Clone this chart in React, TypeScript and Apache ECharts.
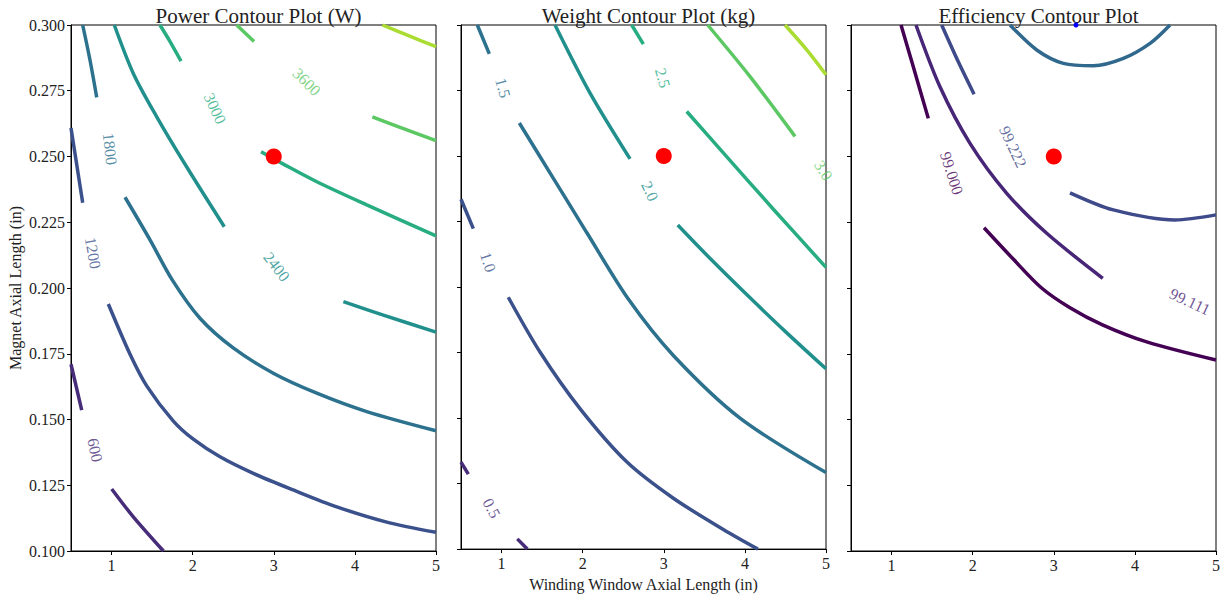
import React, { useEffect, useRef } from "react";
import * as echarts from "echarts";

type Pt = [number, number];

// ---------- axis ticks ----------
const xTickValues = [1, 2, 3, 4, 5];
const xMin = 0.5;
const xMax = 5;
const yMin = 0.1;
const yMax = 0.3;
const yStep = 0.025;

// ---------- titles ----------
const panelTitles = ["Power Contour Plot (W)", "Weight Contour Plot (kg)", "Efficiency Contour Plot"];
const xAxisTitle = "Winding Window Axial Length (in)";
const yAxisTitle = "Magnet Axial Length (in)";

// ---------- design point ----------
const designPoint: Pt = [3, 0.25];
const effPeakPoint: Pt = [3.274, 0.3];

// ---------- Power contours (W) ----------
const powerLevels = ["600", "1200", "1800", "2400", "3000", "3600", "4200"];
const power600: Pt[][] = [
  [[0.5, 0.171], [0.632, 0.1536]],
  [[1.002, 0.1236], [1.268, 0.113], [1.64, 0.1]],
];
const power1200: Pt[][] = [
  [[0.5, 0.2608], [0.644, 0.2324]],
  [[0.96, 0.1939], [1.228, 0.1748], [1.433, 0.1628], [1.762, 0.1494], [2.008, 0.1425], [2.337, 0.1358], [2.748, 0.1295], [3.241, 0.1232], [3.776, 0.1168], [4.393, 0.111], [5.0, 0.1071]],
];
const power1800: Pt[][] = [
  [[0.644, 0.3], [0.734, 0.2867], [0.817, 0.2725]],
  [[1.166, 0.2345], [1.474, 0.2183], [1.75, 0.203], [2.09, 0.1885], [2.5, 0.1772], [2.994, 0.1676], [3.53, 0.16], [4.146, 0.153], [5.0, 0.1457]],
];
const power2400: Pt[][] = [
  [[1.034, 0.3], [1.268, 0.2816], [1.557, 0.2651], [1.927, 0.246], [2.39, 0.2233]],
  [[3.858, 0.1948], [4.351, 0.1897], [5.0, 0.1832]],
];
const power3000: Pt[][] = [
  [[1.597, 0.3], [1.721, 0.2937], [1.856, 0.2863]],
  [[2.843, 0.2518], [3.118, 0.2471], [3.53, 0.2404], [4.146, 0.2316], [5.0, 0.2198]],
];
const power3600: Pt[][] = [
  [[2.543, 0.3], [2.757, 0.2937]],
  [[4.215, 0.2651], [4.557, 0.2611], [5.0, 0.256]],
];
const power4200: Pt[][] = [
  [[4.339, 0.3], [4.639, 0.2962], [5.0, 0.2918]],
];
const powerLabelText = ["600", "1200", "1800", "2400", "3000", "3600"];
const powerLabelPos: Pt[] = [[0.796, 0.1384], [0.771, 0.2133], [0.981, 0.2529], [3.036, 0.2081], [2.276, 0.2683], [3.406, 0.2784]];
const powerLabelAngle = [-78, -80, -84, -52, -65, -45];

// ---------- Weight contours (kg) ----------
const weightLevels = ["0.5", "1.0", "1.5", "2.0", "2.5", "3.0", "3.5"];
const weight05: Pt[][] = [
  [[0.5, 0.1332], [0.59, 0.1286]],
  [[1.194, 0.1039], [1.318, 0.1]],
];
const weight10: Pt[][] = [
  [[0.5, 0.2335], [0.652, 0.2223]],
  [[1.083, 0.1961], [1.474, 0.1752], [1.967, 0.1536], [2.543, 0.1333], [3.118, 0.1194], [3.734, 0.1075], [4.16, 0.1]],
];
const weight15: Pt[][] = [
  [[0.701, 0.3], [0.849, 0.289]],
  [[1.219, 0.2626], [1.597, 0.2436], [2.05, 0.2208], [2.563, 0.1954], [3.118, 0.1739], [3.94, 0.15], [5.0, 0.1292]],
];
const weight20: Pt[][] = [
  [[1.659, 0.3], [2.091, 0.274], [2.584, 0.2489]],
  [[3.172, 0.2237], [3.6, 0.21], [4.0, 0.1978], [4.5, 0.183], [5.0, 0.1688]],
];
const weight25: Pt[][] = [
  [[2.605, 0.3], [2.748, 0.2927]],
  [[3.283, 0.267], [3.734, 0.2512], [4.351, 0.2297], [5.0, 0.2075]],
];
const weight30: Pt[][] = [
  [[3.542, 0.3], [4.064, 0.2803], [4.618, 0.2575]],
];
const weight35: Pt[][] = [
  [[4.495, 0.3], [4.763, 0.2905], [5.0, 0.281]],
];
const weightLabelText = ["0.5", "1.0", "1.5", "2.0", "2.5", "3.0"];
const weightLabelPos: Pt[] = [[0.878, 0.1156], [0.833, 0.2095], [1.018, 0.276], [2.83, 0.2366], [2.987, 0.2798], [4.97, 0.2445]];
const weightLabelAngle = [-62, -72, -75, -65, -75, -58];

// ---------- Efficiency contours (%) ----------
const effLevels = ["99.000", "99.111", "99.222", "99.333"];
const eff99000: Pt[][] = [
  [[1.117, 0.3], [1.268, 0.2841], [1.453, 0.2645]],
  [[2.14, 0.2229], [2.5, 0.211], [2.85, 0.2], [3.2, 0.1925], [3.6, 0.186], [4.146, 0.1795], [5.0, 0.1726]],
];
const eff99111: Pt[][] = [
  [[1.301, 0.3], [1.597, 0.2765], [1.967, 0.255], [2.42, 0.236], [2.913, 0.2208], [3.604, 0.2037]],
];
const eff99222: Pt[][] = [
  [[1.618, 0.3], [1.823, 0.286], [2.017, 0.2737]],
  [[3.2, 0.2362], [3.735, 0.2297], [4.495, 0.2259], [5.0, 0.2278]],
];
const eff99333: Pt[][] = [
  [[2.461, 0.3], [2.79, 0.2905], [3.118, 0.2854], [3.488, 0.2845], [3.858, 0.2873], [4.187, 0.293], [4.433, 0.3]],
];
const effLabelText = ["99.000", "99.222", "99.111"];
const effLabelPos: Pt[] = [[1.742, 0.2436], [2.498, 0.2537], [4.68, 0.1948]];
const effLabelAngle = [-72, -65, -25];

// ---------- styles ----------
const FONT = "'Liberation Serif', 'DejaVu Serif', serif";
const viridisSeven = ["#472c7a", "#3b518b", "#2c718e", "#21908d", "#27ad81", "#5cc863", "#aadc32"];
const effColors = ["#440154", "#482677", "#3e4a89", "#31688e"];
const gridLefts = [71, 461, 851];
const GRID_TOP = 25;
const GRID_W = 365;
const GRID_H = 526;

export default function App() {
  const ref = useRef<HTMLDivElement>(null);

  useEffect(() => {
    if (!ref.current) return;
    const chart = echarts.init(ref.current, undefined, { renderer: "svg" });

    const panels = [
      {
        levels: powerLevels,
        colors: viridisSeven,
        contours: [power600, power1200, power1800, power2400, power3000, power3600, power4200],
        labelText: powerLabelText,
        labelPos: powerLabelPos,
        labelAngle: powerLabelAngle,
      },
      {
        levels: weightLevels,
        colors: viridisSeven,
        contours: [weight05, weight10, weight15, weight20, weight25, weight30, weight35],
        labelText: weightLabelText,
        labelPos: weightLabelPos,
        labelAngle: weightLabelAngle,
      },
      {
        levels: effLevels,
        colors: effColors,
        contours: [eff99000, eff99111, eff99222, eff99333],
        labelText: effLabelText,
        labelPos: effLabelPos,
        labelAngle: effLabelAngle,
      },
    ];

    const series: any[] = [];
    panels.forEach((p, pi) => {
      p.contours.forEach((segs, li) => {
        segs.forEach((seg) => {
          series.push({
            type: "line",
            xAxisIndex: pi,
            yAxisIndex: pi,
            data: seg,
            showSymbol: false,
            symbol: "none",
            smooth: seg.length > 2 ? 0.3 : false,
            lineStyle: { color: p.colors[li], width: 3.5, cap: "butt" },
            silent: true,
            z: 2,
          });
        });
      });
      series.push({
        type: "scatter",
        xAxisIndex: pi,
        yAxisIndex: pi,
        symbolSize: 1,
        silent: true,
        itemStyle: { color: "rgba(0,0,0,0)" },
        z: 4,
        data: p.labelText.map((t, k) => ({
          value: p.labelPos[k],
          label: {
            show: true,
            position: "inside",
            formatter: t,
            rotate: p.labelAngle[k],
            color: p.colors[p.levels.indexOf(t)],
            fontSize: 16,
            fontFamily: FONT,
          },
        })),
      });
      series.push({
        type: "scatter",
        xAxisIndex: pi,
        yAxisIndex: pi,
        symbolSize: 16,
        itemStyle: { color: "#ff0000", opacity: 1 },
        data: [designPoint],
        z: 10,
        silent: true,
      });
    });
    series.push({
      type: "scatter",
      xAxisIndex: 2,
      yAxisIndex: 2,
      symbolSize: 5,
      itemStyle: { color: "#0000ff", opacity: 1 },
      data: [effPeakPoint],
      z: 9,
      silent: true,
    });

    const grids = gridLefts.map((l) => ({
      left: l,
      top: GRID_TOP,
      width: GRID_W,
      height: GRID_H,
      show: true,
      borderColor: "#000",
      borderWidth: 1,
      backgroundColor: "transparent",
    }));

    const xAxes = gridLefts.map((_, i) => ({
      type: "value",
      gridIndex: i,
      min: xMin,
      max: xMax,
      splitLine: { show: false },
      axisLine: { show: true, onZero: false, lineStyle: { color: "#000", width: 1 } },
      axisTick: { show: true, length: 4, customValues: xTickValues, lineStyle: { color: "#000" } },
      axisLabel: {
        show: true,
        customValues: xTickValues,
        color: "#222",
        fontSize: 16,
        fontFamily: FONT,
        margin: 6,
      },
      name: i === 1 ? xAxisTitle : "",
      nameLocation: "middle",
      nameGap: 23,
      nameTextStyle: { color: "#222", fontSize: 16, fontFamily: FONT },
    }));

    const yAxes = gridLefts.map((_, i) => ({
      type: "value",
      gridIndex: i,
      min: yMin,
      max: yMax,
      interval: yStep,
      splitLine: { show: false },
      axisLine: { show: true, onZero: false, lineStyle: { color: "#000", width: 1 } },
      axisTick: { show: true, length: 4, lineStyle: { color: "#000" } },
      axisLabel: {
        show: i === 0,
        color: "#222",
        fontSize: 16,
        fontFamily: FONT,
        margin: 6,
        formatter: (v: number) => v.toFixed(3),
      },
      name: i === 0 ? yAxisTitle : "",
      nameLocation: "middle",
      nameRotate: 90,
      nameGap: 48,
      nameTextStyle: { color: "#222", fontSize: 16, fontFamily: FONT },
    }));

    const titles = panelTitles.map((t, i) => ({
      text: t,
      left: gridLefts[i] + GRID_W / 2,
      top: 0,
      textAlign: "center",
      textStyle: { color: "#222", fontSize: 21, fontWeight: "normal", fontFamily: FONT },
    }));

    chart.setOption({
      animation: false,
      backgroundColor: "#fff",
      title: titles,
      grid: grids,
      xAxis: xAxes,
      yAxis: yAxes,
      series,
    });

    return () => chart.dispose();
  }, []);

  return (
    <div
      ref={ref}
      style={{ position: "fixed", left: 0, top: 0, width: 1228, height: 597 }}
    />
  );
}
